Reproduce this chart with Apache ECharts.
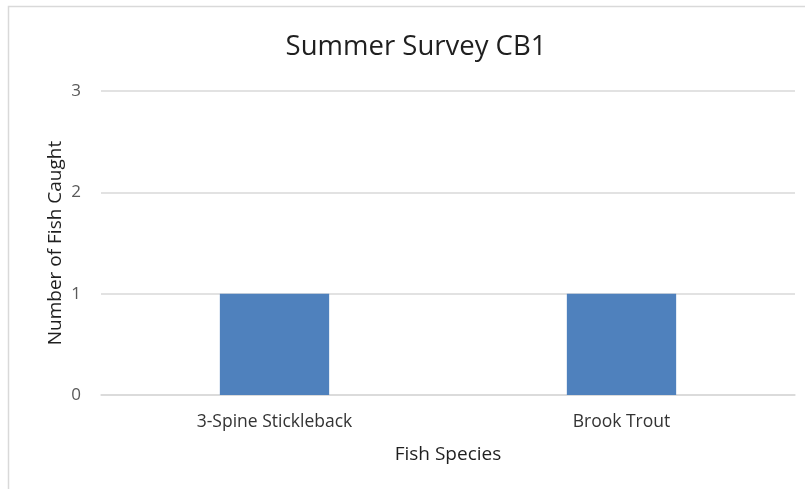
<!DOCTYPE html>
<html>
<head>
<meta charset="utf-8">
<style>
  html, body { margin: 0; padding: 0; background: #ffffff; }
  #chart { width: 805px; height: 489px; }
</style>
<script src="https://cdn.jsdelivr.net/npm/echarts@6/dist/echarts.min.js"></script>
</head>
<body>
<div id="chart"></div>
<script>
// Catch counts per species
const species = ['3-Spine Stickleback', 'Brook Trout'];
const fishCaught = [1, 1];
const yTicks = [0, 1, 2, 3];

const FONT = '"Open Sans", "Liberation Sans", sans-serif';

const chart = echarts.init(document.getElementById('chart'), null, { renderer: 'canvas' });

chart.setOption({
  backgroundColor: '#ffffff',
  animation: false,
  title: {
    text: 'Summer Survey CB1',
    left: 411,
    textAlign: 'center',
    top: 28,
    textStyle: { fontFamily: FONT, fontSize: 27.5, fontWeight: 'normal', color: '#1f1f1f' }
  },
  graphic: [{
    type: 'rect',
    shape: { x: 8.5, y: 6.5, width: 820, height: 520 },
    style: { fill: 'none', stroke: '#d9d9d9', lineWidth: 1.5 },
    silent: true
  }],
  grid: { left: 101, right: 10, top: 91, bottom: 94 },
  xAxis: {
    type: 'category',
    data: species,
    name: 'Fish Species',
    nameLocation: 'middle',
    nameGap: 50,
    nameMoveOverlap: false,
    nameTextStyle: { fontFamily: FONT, fontSize: 19, color: '#1f1f1f' },
    axisLine: { show: true, lineStyle: { color: '#d9d9d9', width: 1.5 } },
    axisTick: { show: false },
    axisLabel: { fontFamily: FONT, fontSize: 17.5, color: '#333333', margin: 18 }
  },
  yAxis: {
    type: 'value',
    min: yTicks[0],
    max: yTicks[yTicks.length - 1],
    interval: 1,
    name: 'Number of Fish Caught',
    nameLocation: 'middle',
    nameGap: 36,
    nameMoveOverlap: false,
    nameTextStyle: { fontFamily: FONT, fontSize: 19, color: '#1f1f1f' },
    axisLine: { show: false },
    axisTick: { show: false },
    axisLabel: { fontFamily: FONT, fontSize: 17, color: '#595959', margin: 20 },
    splitLine: { lineStyle: { color: '#d9d9d9', width: 1.5 } }
  },
  series: [{
    type: 'bar',
    data: fishCaught,
    barWidth: '31.5%',
    itemStyle: { color: '#4f81bd' }
  }]
});
</script>
</body>
</html>
